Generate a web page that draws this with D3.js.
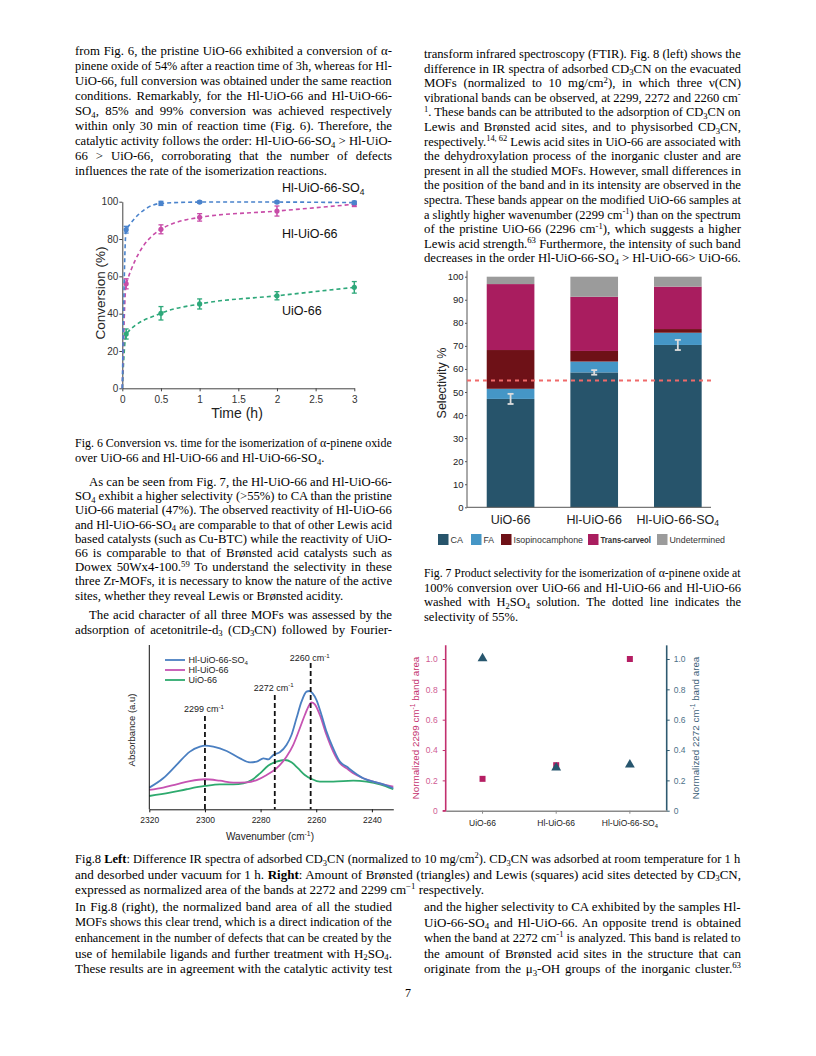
<!DOCTYPE html>
<html>
<head>
<meta charset="utf-8">
<script src="https://cdn.jsdelivr.net/npm/d3@7"></script>
<style>
  body { margin: 0; background: #fff; }
</style>
</head>
<body>
<div id="page"></div>
<script>
// ---------- page text ----------
var textLeftTop = [
  "from Fig. 6, the pristine UiO-66 exhibited a conversion of α-",
  "pinene oxide of 54% after a reaction time of 3h, whereas for Hl-",
  "UiO-66, full conversion was obtained under the same reaction",
  "conditions. Remarkably, for the Hl-UiO-66 and Hl-UiO-66-",
  "SO_{4}, 85% and 99% conversion was achieved respectively",
  "within only 30 min of reaction time (Fig. 6). Therefore, the",
  "catalytic activity follows the order: Hl-UiO-66-SO_{4} > Hl-UiO-",
  "66 > UiO-66, corroborating that the number of defects",
  "influences the rate of the isomerization reactions."
];
var capFig6 = [
  "Fig. 6 Conversion vs. time for the isomerization of α-pinene oxide",
  "over UiO-66 and Hl-UiO-66 and Hl-UiO-66-SO_{4}."
];
var paraSelectivity = [
  "As can be seen from Fig. 7, the Hl-UiO-66 and Hl-UiO-66-",
  "SO_{4} exhibit a higher selectivity (>55%) to CA than the pristine",
  "UiO-66 material (47%). The observed reactivity of Hl-UiO-66",
  "and Hl-UiO-66-SO_{4} are comparable to that of other Lewis acid",
  "based catalysts (such as Cu-BTC) while the reactivity of UiO-",
  "66 is comparable to that of Brønsted acid catalysts such as",
  "Dowex 50Wx4-100.^{59} To understand the selectivity in these",
  "three Zr-MOFs, it is necessary to know the nature of the active",
  "sites, whether they reveal Lewis or Brønsted acidity."
];
var paraAcid = [
  "The acid character of all three MOFs was assessed by the",
  "adsorption of acetonitrile-d_{3} (CD_{3}CN) followed by Fourier-"
];
var textRightTop = [
  "transform infrared spectroscopy (FTIR). Fig. 8 (left) shows the",
  "difference in IR spectra of adsorbed CD_{3}CN on the evacuated",
  "MOFs (normalized to 10 mg/cm^{2}), in which three ν(CN)",
  "vibrational bands can be observed, at 2299, 2272 and 2260 cm^{-}",
  "^{1}. These bands can be attributed to the adsorption of CD_{3}CN on",
  "Lewis and Brønsted acid sites, and to physisorbed CD_{3}CN,",
  "respectively.^{14, 62} Lewis acid sites in UiO-66 are associated with",
  "the dehydroxylation process of the inorganic cluster and are",
  "present in all the studied MOFs. However, small differences in",
  "the position of the band and in its intensity are observed in the",
  "spectra. These bands appear on the modified UiO-66 samples at",
  "a slightly higher wavenumber (2299 cm^{-1}) than on the spectrum",
  "of the pristine UiO-66 (2296 cm^{-1}), which suggests a higher",
  "Lewis acid strength.^{63} Furthermore, the intensity of such band",
  "decreases in the order Hl-UiO-66-SO_{4} > Hl-UiO-66> UiO-66."
];
var capFig7 = [
  "Fig. 7 Product selectivity for the isomerization of α-pinene oxide at",
  "100% conversion over UiO-66 and Hl-UiO-66 and Hl-UiO-66",
  "washed with H_{2}SO_{4} solution. The dotted line indicates the",
  "selectivity of 55%."
];
var capFig8 = [
  "Fig.8 **Left**: Difference IR spectra of adsorbed CD_{3}CN (normalized to 10 mg/cm^{2}). CD_{3}CN was adsorbed at room temperature for 1 h",
  "and desorbed under vacuum for 1 h. **Right**: Amount of Brønsted (triangles) and Lewis (squares) acid sites detected by CD_{3}CN,",
  "expressed as normalized area of the bands at 2272 and 2299 cm^{−1} respectively."
];
var textBottomLeft = [
  "In Fig.8 (right), the normalized band area of all the studied",
  "MOFs shows this clear trend, which is a direct indication of the",
  "enhancement in the number of defects that can be created by the",
  "use of hemilabile ligands and further treatment with H_{2}SO_{4}.",
  "These results are in agreement with the catalytic activity test"
];
var textBottomRight = [
  "and the higher selectivity to CA exhibited by the samples Hl-",
  "UiO-66-SO_{4} and Hl-UiO-66. An opposite trend is obtained",
  "when the band at 2272 cm^{-1} is analyzed. This band is related to",
  "the amount of Brønsted acid sites in the structure that can",
  "originate from the μ_{3}-OH groups of the inorganic cluster.^{63}"
];

// ---------- Fig. 6 data ----------
var times = [0, 0.05, 0.5, 1, 2, 3];
var timeTicks = [0, 0.5, 1, 1.5, 2, 2.5, 3];
var convTicks = [0, 20, 40, 60, 80, 100];
var convSO4 = [0, 85, 99.1, 99.8, 99.8, 99.5];
var convHl = [0, 56, 85.2, 91.6, 95, 98.6];
var convUiO = [0, 29.1, 40.2, 45.2, 49.6, 54.1];
var errSO4 = [0, 1.8, 1.1, 0.6, 0.6, 0.8];
var errHl = [0, 2.7, 2.4, 2, 2.7, 1.2];
var errUiO = [0, 2.7, 3.6, 2.7, 2.2, 3.1];

// ---------- Fig. 7 data ----------
var catalysts = ["UiO-66", "Hl-UiO-66", "Hl-UiO-66-SO_{4}"];
var products = ["CA", "FA", "Isopinocamphone", "Trans-carveol", "Undetermined"];
var selCA = [47, 58.5, 70.4];
var selFA = [4.4, 4.7, 5.3];
var selIso = [16.8, 4.6, 1.6];
var selTrans = [28.6, 23.5, 18.4];
var selUnd = [3.2, 8.7, 4.3];
var selErr = [2.2, 1, 2.2];
var selTicks = [0, 10, 20, 30, 40, 50, 60, 70, 80, 90, 100];
var selThreshold = 55;

// ---------- Fig. 8 left data (IR spectra) ----------
var wnTicks = [2320, 2300, 2280, 2260, 2240];
var wnSO4 = [2320, 2315.0, 2310.2, 2305.4, 2301.8, 2300.0, 2297.0, 2292.2, 2287.4, 2283.8, 2281.4, 2279.0, 2277.2, 2275.4, 2273.1, 2270.7, 2268.9, 2267.1, 2265.3, 2263.5, 2262.5, 2261.3, 2259.9, 2258.1, 2256.3, 2253.9, 2251.5, 2249.1, 2246.7, 2243.1, 2239.5, 2235.9, 2232.3];
var absSO4 = [0.132, 0.189, 0.270, 0.351, 0.381, 0.387, 0.381, 0.355, 0.310, 0.286, 0.290, 0.310, 0.304, 0.331, 0.347, 0.391, 0.452, 0.554, 0.655, 0.716, 0.720, 0.706, 0.665, 0.574, 0.473, 0.371, 0.290, 0.260, 0.229, 0.189, 0.168, 0.152, 0.128];
var wnHl = [2320, 2315.0, 2310.2, 2305.4, 2300.0, 2294.6, 2289.8, 2285.0, 2281.4, 2277.8, 2274.3, 2270.7, 2268.3, 2265.9, 2264.1, 2262.5, 2261.7, 2260.5, 2258.7, 2256.3, 2253.9, 2251.5, 2249.1, 2246.7, 2243.1, 2239.5, 2235.9, 2232.3];
var absHl = [0.118, 0.132, 0.152, 0.172, 0.183, 0.174, 0.162, 0.164, 0.178, 0.209, 0.249, 0.320, 0.391, 0.493, 0.574, 0.635, 0.651, 0.639, 0.574, 0.452, 0.351, 0.280, 0.249, 0.219, 0.189, 0.168, 0.152, 0.138];
var wnUiO = [2320, 2312.6, 2306.6, 2300.0, 2294.6, 2289.8, 2286.2, 2283.2, 2280.2, 2277.2, 2274.3, 2271.3, 2268.9, 2266.5, 2264.1, 2261.7, 2258.7, 2253.9, 2246.7, 2241.9, 2237.1, 2232.3];
var absUiO = [0.081, 0.101, 0.122, 0.142, 0.152, 0.152, 0.158, 0.178, 0.219, 0.266, 0.290, 0.300, 0.286, 0.249, 0.209, 0.185, 0.168, 0.168, 0.174, 0.168, 0.152, 0.122];
var bandLines = [2300, 2274.9, 2262];
var bandLabels = ["2299 cm^{-1}", "2272 cm^{-1}", "2260 cm^{-1}"];

// ---------- Fig. 8 right data ----------
var siteSamples = ["UiO-66", "Hl-UiO-66", "Hl-UiO-66-SO_{4}"];
var lewis2299 = [0.21, 0.30, 1.0];
var bronsted2272 = [1.0, 0.28, 0.30];
var areaTicks = [0, 0.2, 0.4, 0.6, 0.8, 1.0];

var svg = d3.select("#page").append("svg")
  .attr("width", 816)
  .attr("height", 1056)
  .style("background", "#fff");

// rich text: _{sub}, ^{sup}, **bold**
function rich(text, str, size) {
  var parts = str.split(/(_\{[^}]*\}|\^\{[^}]*\}|\*\*[^*]+\*\*)/);
  var shift = 0;
  parts.forEach(function(p) {
    if (!p) return;
    var target = 0, fs = null, txt = p, bold = false;
    if (p.indexOf("_{") === 0) { target = size * 0.22; fs = size * 0.68; txt = p.slice(2, -1); }
    else if (p.indexOf("^{") === 0) { target = -size * 0.36; fs = size * 0.68; txt = p.slice(2, -1); }
    else if (p.indexOf("**") === 0) { bold = true; txt = p.slice(2, -2); }
    var ts = text.append("tspan").text(txt);
    if (target !== shift) { ts.attr("dy", target - shift); shift = target; }
    if (fs) ts.attr("font-size", fs);
    if (bold) ts.attr("font-weight", "bold");
  });
  return text;
}

// squeeze a text element horizontally if it is wider than w
function squeeze(t, x, w) {
  var len = t.node().getComputedTextLength();
  if (len > w) t.attr("transform", "translate(" + x + ",0) scale(" + (w / len) + ",1) translate(" + (-x) + ",0)");
  return len;
}

function textLine(g, str, x, y, w, size, justify) {
  var t = g.append("text").attr("x", x).attr("y", y).attr("font-size", size);
  rich(t, str, size);
  var len = squeeze(t, x, w);
  var spaces = (str.match(/ /g) || []).length;
  if (len <= w && justify && spaces) {
    t.attr("word-spacing", (w - len) / spaces);
  }
  return t;
}

function block(lines, x, y0, step, w, size, indent, justifyLast) {
  var g = svg.append("g").attr("font-family", "Liberation Serif").attr("fill", "#000");
  lines.forEach(function(s, i) {
    var last = i === lines.length - 1;
    var ind = (i === 0 && indent) ? indent : 0;
    textLine(g, s, x + ind, y0 + i * step, w - ind, size, !last || justifyLast);
  });
}

function label(g, str, x, y, size, anchor, color, rotate) {
  var t = g.append("text")
    .attr("x", x).attr("y", y)
    .attr("font-size", size)
    .attr("text-anchor", anchor || "start")
    .attr("fill", color || "#222");
  if (rotate) t.attr("transform", "rotate(" + rotate + "," + x + "," + y + ")");
  return rich(t, str, size);
}

function styleAxis(sel, color, size, textColor) {
  sel.attr("font-family", "Liberation Sans").attr("font-size", size);
  sel.select(".domain").attr("stroke", color);
  sel.selectAll(".tick line").attr("stroke", color);
  sel.selectAll(".tick text").attr("fill", textColor || color);
}

// ---------- text blocks ----------
block(textLeftTop, 75, 55, 15.0, 317, 12.8, 0, false);
block(capFig6, 75, 447, 15.0, 317, 12.5, 0, false);
block(paraSelectivity, 75, 486, 14.2, 317, 12.8, 14, false);
block(paraAcid, 75, 619, 14.5, 317, 12.8, 14, true);
block(textRightTop, 424, 58, 14.6, 317, 12.8, 0, false);
block(capFig7, 424, 577, 14.5, 317, 12.5, 0, false);
block(capFig8, 75, 863, 15.5, 666, 13, 0, false);
block(textBottomLeft, 75, 911, 15.5, 317, 13, 0, true);
block(textBottomRight, 424, 911, 15.5, 317, 13, 0, true);
svg.append("text").attr("x", 408).attr("y", 997).attr("text-anchor", "middle")
  .attr("font-family", "Liberation Serif").attr("font-size", 12).text("7");

// ---------- Fig. 6 ----------
var g6 = svg.append("g").attr("font-family", "Liberation Sans");
var x6 = d3.scaleLinear().domain([0, 3]).range([122.3, 354.3]);
var y6 = d3.scaleLinear().domain([0, 100]).range([388.3, 201.7]);

g6.append("g")
  .attr("transform", "translate(0," + y6(0) + ")")
  .call(d3.axisBottom(x6).tickValues(timeTicks).tickSize(3).tickSizeOuter(0).tickPadding(5).tickFormat(String))
  .call(styleAxis, "#444", 10, "#333");
g6.append("g")
  .attr("transform", "translate(" + x6(0) + ",0)")
  .call(d3.axisLeft(y6).tickValues(convTicks).tickSize(3).tickSizeOuter(0).tickPadding(1))
  .call(styleAxis, "#444", 10, "#333");

label(g6, "Conversion (%)", 105, 293, 13.5, "middle", "#222", -90);
label(g6, "Time (h)", 237, 418, 14, "middle", "#222");

var series6 = [
  { name: "UiO-66", vals: convUiO, err: errUiO, color: "#2ea87a", lx: 282, ly: 315 },
  { name: "Hl-UiO-66", vals: convHl, err: errHl, color: "#c84ca8", lx: 282, ly: 237.5 },
  { name: "Hl-UiO-66-SO_{4}", vals: convSO4, err: errSO4, color: "#4a83cc", lx: 282, ly: 192 }
];
var line6 = d3.line()
  .x(function(d, i) { return x6(times[i]); })
  .y(function(d) { return y6(d); })
  .curve(d3.curveMonotoneX);

series6.forEach(function(s) {
  var sg = g6.append("g");
  sg.append("path")
    .attr("d", line6(s.vals))
    .attr("fill", "none")
    .attr("stroke", s.color)
    .attr("stroke-width", 1.6)
    .attr("stroke-dasharray", "4,3");
  var pts = s.vals.map(function(v, i) { return { t: times[i], v: v, e: s.err[i] }; }).filter(function(d) { return d.t > 0; });
  sg.selectAll("line.err").data(pts).enter().append("line")
    .attr("x1", function(d) { return x6(d.t); }).attr("x2", function(d) { return x6(d.t); })
    .attr("y1", function(d) { return y6(d.v - d.e); }).attr("y2", function(d) { return y6(d.v + d.e); })
    .attr("stroke", s.color).attr("stroke-width", 1.5);
  [-1, 1].forEach(function(sign) {
    sg.selectAll(null).data(pts).enter().append("line")
      .attr("x1", function(d) { return x6(d.t) - 2.5; }).attr("x2", function(d) { return x6(d.t) + 2.5; })
      .attr("y1", function(d) { return y6(d.v + sign * d.e); }).attr("y2", function(d) { return y6(d.v + sign * d.e); })
      .attr("stroke", s.color).attr("stroke-width", 1.3);
  });
  sg.selectAll("circle").data(pts).enter().append("circle")
    .attr("cx", function(d) { return x6(d.t); })
    .attr("cy", function(d) { return y6(d.v); })
    .attr("r", 2.6)
    .attr("fill", s.color);
  label(g6, s.name, s.lx, s.ly, 12.5, "start", "#111");
});

// ---------- Fig. 7 ----------
var g7 = svg.append("g").attr("font-family", "Liberation Sans");
var prodColors = ["#27546b", "#4596c6", "#6e1117", "#a91d5f", "#9b9b9b"];
var selTable = catalysts.map(function(c, i) {
  return { cat: c, "CA": selCA[i], "FA": selFA[i], "Isopinocamphone": selIso[i], "Trans-carveol": selTrans[i], "Undetermined": selUnd[i] };
});
var stack7 = d3.stack().keys(products)(selTable);
var x7 = d3.scaleBand().domain(catalysts).range([470, 718.4]).paddingInner(0.43).paddingOuter(0.2);
var y7 = d3.scaleLinear().domain([0, 100]).range([507.3, 276.7]);
var color7 = d3.scaleOrdinal().domain(products).range(prodColors);

stack7.forEach(function(layer) {
  g7.append("g").attr("fill", color7(layer.key))
    .selectAll("rect").data(layer).enter().append("rect")
    .attr("x", function(d) { return x7(d.data.cat); })
    .attr("width", x7.bandwidth())
    .attr("y", function(d) { return y7(d[1]); })
    .attr("height", function(d) { return y7(d[0]) - y7(d[1]); });
});

g7.append("g")
  .attr("transform", "translate(467,0)")
  .call(d3.axisLeft(y7).tickValues(selTicks).tickSize(2).tickSizeOuter(0).tickPadding(1.5))
  .call(styleAxis, "#555", 9.5, "#222");
g7.select(".domain").attr("d", "M0," + (y7(100) - 6) + "V" + y7(0));
g7.append("line")
  .attr("x1", 467).attr("x2", 711)
  .attr("y1", y7(0)).attr("y2", y7(0))
  .attr("stroke", "#555");

// CA error bars
var errG = g7.append("g").attr("stroke", "#dcdcdc").attr("stroke-width", 1.8);
catalysts.forEach(function(c, i) {
  var cx = x7(c) + x7.bandwidth() / 2;
  errG.append("line").attr("x1", cx).attr("x2", cx).attr("y1", y7(selCA[i] - selErr[i])).attr("y2", y7(selCA[i] + selErr[i]));
  [-1, 1].forEach(function(sign) {
    errG.append("line").attr("x1", cx - 3).attr("x2", cx + 3)
      .attr("y1", y7(selCA[i] + sign * selErr[i])).attr("y2", y7(selCA[i] + sign * selErr[i]));
  });
});

g7.append("line")
  .attr("x1", 467).attr("x2", 715)
  .attr("y1", y7(selThreshold)).attr("y2", y7(selThreshold))
  .attr("stroke", "#f06a6a").attr("stroke-width", 2).attr("stroke-dasharray", "4,4");

catalysts.forEach(function(c) {
  label(g7, c, x7(c) + x7.bandwidth() / 2, 523.5, 12.5, "middle", "#222");
});
label(g7, "Selectivity %", 445.5, 383, 12.5, "middle", "#222", -90);

var legendX = [438, 471, 501, 588, 657];
var legendEnd = [463, 494, 583, 651, 725];
products.forEach(function(p, i) {
  g7.append("rect").attr("x", legendX[i]).attr("y", 534).attr("width", 10.5).attr("height", 11)
    .attr("fill", prodColors[i]);
  var tx = legendX[i] + 12.5;
  var t = g7.append("text").attr("x", tx).attr("y", 543)
    .attr("font-size", 9.2).attr("fill", "#333")
    .attr("font-weight", p === "Trans-carveol" ? "bold" : "normal")
    .text(p);
  squeeze(t, tx, legendEnd[i] - tx);
});

// ---------- Fig. 8 left ----------
var g8 = svg.append("g").attr("font-family", "Liberation Sans");
var x8 = d3.scaleLinear().domain([2320, 2232.3]).range([149.3, 393.3]);
var y8 = d3.scaleLinear().domain([0, 1]).range([809.3, 645]);

var spectra = [
  { name: "UiO-66", wn: wnUiO, ab: absUiO, color: "#2eaa6e" },
  { name: "Hl-UiO-66", wn: wnHl, ab: absHl, color: "#c653b2" },
  { name: "Hl-UiO-66-SO_{4}", wn: wnSO4, ab: absSO4, color: "#4a7fc1" }
];
var line8 = d3.line()
  .x(function(d) { return x8(d[0]); })
  .y(function(d) { return y8(d[1]); })
  .curve(d3.curveMonotoneX);
spectra.forEach(function(s) {
  g8.append("path")
    .attr("d", line8(d3.zip(s.wn, s.ab)))
    .attr("fill", "none")
    .attr("stroke", s.color)
    .attr("stroke-width", 1.8);
});

g8.append("g")
  .attr("transform", "translate(0," + y8(0) + ")")
  .call(d3.axisBottom(x8).tickValues(wnTicks).tickSize(3).tickSizeOuter(0).tickPadding(5).tickFormat(String))
  .call(styleAxis, "#111", 8.5, "#222");
g8.append("line")
  .attr("x1", x8(2320)).attr("x2", x8(2320))
  .attr("y1", y8(1)).attr("y2", y8(0))
  .attr("stroke", "#111");

var bandTopY = [716, 695, 663];
var bandLabelY = [712, 690.5, 661];
bandLines.forEach(function(b, i) {
  g8.append("line")
    .attr("x1", x8(b)).attr("x2", x8(b))
    .attr("y1", bandTopY[i]).attr("y2", y8(0))
    .attr("stroke", "#111").attr("stroke-width", 1.8).attr("stroke-dasharray", "5,3");
  label(g8, bandLabels[i], x8(b) - 1, bandLabelY[i], 9, "middle", "#222");
});

var legend8 = spectra.slice().reverse();
legend8.forEach(function(s, i) {
  var ly = 660 + i * 10;
  g8.append("line").attr("x1", 165).attr("x2", 185).attr("y1", ly).attr("y2", ly)
    .attr("stroke", s.color).attr("stroke-width", 1.8);
  label(g8, s.name, 188.5, ly + 3, 9, "start", "#222");
});

label(g8, "Absorbance (a.u)", 134.5, 730, 9.5, "middle", "#222", -90);
label(g8, "Wavenumber (cm^{-1})", 270, 839.5, 10, "middle", "#222");

// ---------- Fig. 8 right ----------
var gR = svg.append("g").attr("font-family", "Liberation Sans");
var xR = d3.scaleBand().domain(siteSamples).range([445.7, 666.7]);
var yR = d3.scaleLinear().domain([0, 1]).range([810.7, 659]);
var lewisColor = "#b51e63", bronColor = "#27566e";

var leftAx = gR.append("g")
  .attr("transform", "translate(445.7,0)")
  .call(d3.axisLeft(yR).tickValues(areaTicks).tickSize(3).tickSizeOuter(0).tickPadding(5)
    .tickFormat(function(d) { return d === 0 ? "0" : d3.format(".1f")(d); }))
  .call(styleAxis, "#c2306f", 8.5, "#cf5c93");
leftAx.select(".domain").attr("d", "M-3," + yR(0) + "H0V" + yR(1.09)).attr("stroke-width", 1.6);

var rightAx = gR.append("g")
  .attr("transform", "translate(666.7,0)")
  .call(d3.axisRight(yR).tickValues(areaTicks).tickSize(3).tickSizeOuter(0).tickPadding(4)
    .tickFormat(function(d) { return d === 0 ? "0" : d3.format(".1f")(d); }))
  .call(styleAxis, "#2f5a70", 8.5, "#4d7188");
rightAx.select(".domain").attr("d", "M0," + yR(0) + "V" + yR(1.09)).attr("stroke-width", 1.6);

var bottomAx = gR.append("g")
  .attr("transform", "translate(0," + yR(0) + ")")
  .call(d3.axisBottom(xR).tickSize(3).tickSizeOuter(0).tickFormat(""))
  .call(styleAxis, "#8a8a8a", 8.5);
bottomAx.select(".domain").attr("stroke-width", 1.4);

siteSamples.forEach(function(s) {
  label(gR, s, xR(s) + xR.bandwidth() / 2, 826, 8.5, "middle", "#222");
});

gR.selectAll("rect.lewis").data(lewis2299).enter().append("rect")
  .attr("x", function(d, i) { return xR(siteSamples[i]) + xR.bandwidth() / 2 - 3; })
  .attr("y", function(d) { return yR(d) - 3; })
  .attr("width", 6).attr("height", 6)
  .attr("fill", lewisColor);
gR.selectAll("path.bron").data(bronsted2272).enter().append("path")
  .attr("d", d3.symbol(d3.symbolTriangle, 42))
  .attr("transform", function(d, i) {
    return "translate(" + (xR(siteSamples[i]) + xR.bandwidth() / 2) + "," + (yR(d) - 0.5) + ")";
  })
  .attr("fill", bronColor);

label(gR, "Normalized 2299 cm^{-1} band area", 418.5, 728, 9.8, "middle", "#c4326e", -90);
label(gR, "Normalized 2272 cm^{-1} band area", 698.5, 728, 9.8, "middle", "#3e6278", -90);
</script>
</body>
</html>
